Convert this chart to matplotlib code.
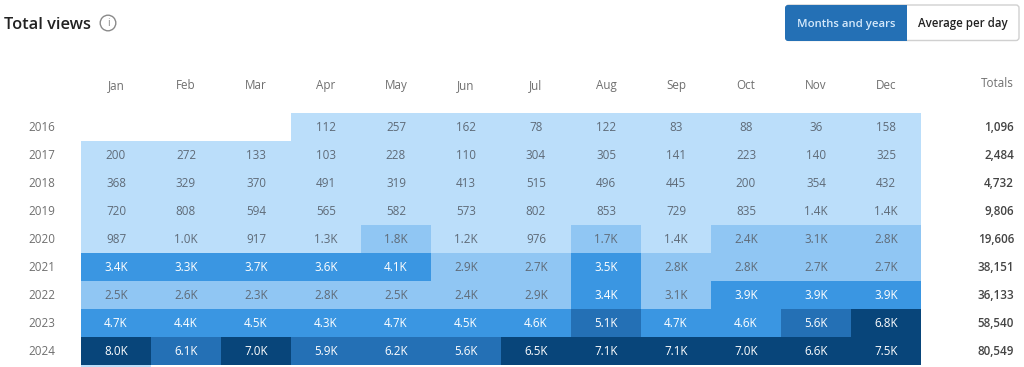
import numpy as np
import matplotlib
matplotlib.use('Agg')
import matplotlib.pyplot as plt
from matplotlib.colors import ListedColormap, BoundaryNorm
from matplotlib.patches import FancyBboxPatch, Circle

months = ['Jan', 'Feb', 'Mar', 'Apr', 'May', 'Jun', 'Jul', 'Aug', 'Sep', 'Oct', 'Nov', 'Dec']
years = ['2016', '2017', '2018', '2019', '2020', '2021', '2022', '2023', '2024']
totals = ['1,096', '2,484', '4,732', '9,806', '19,606', '38,151', '36,133', '58,540', '80,549']

views_2016 = ['', '', '', '112', '257', '162', '78', '122', '83', '88', '36', '158']
views_2017 = ['200', '272', '133', '103', '228', '110', '304', '305', '141', '223', '140', '325']
views_2018 = ['368', '329', '370', '491', '319', '413', '515', '496', '445', '200', '354', '432']
views_2019 = ['720', '808', '594', '565', '582', '573', '802', '853', '729', '835', '1.4K', '1.4K']
views_2020 = ['987', '1.0K', '917', '1.3K', '1.8K', '1.2K', '976', '1.7K', '1.4K', '2.4K', '3.1K', '2.8K']
views_2021 = ['3.4K', '3.3K', '3.7K', '3.6K', '4.1K', '2.9K', '2.7K', '3.5K', '2.8K', '2.8K', '2.7K', '2.7K']
views_2022 = ['2.5K', '2.6K', '2.3K', '2.8K', '2.5K', '2.4K', '2.9K', '3.4K', '3.1K', '3.9K', '3.9K', '3.9K']
views_2023 = ['4.7K', '4.4K', '4.5K', '4.3K', '4.7K', '4.5K', '4.6K', '5.1K', '4.7K', '4.6K', '5.6K', '6.8K']
views_2024 = ['8.0K', '6.1K', '7.0K', '5.9K', '6.2K', '5.6K', '6.5K', '7.1K', '7.1K', '7.0K', '6.6K', '7.5K']
rows = [views_2016, views_2017, views_2018, views_2019, views_2020,
        views_2021, views_2022, views_2023, views_2024]


def to_number(s):
    if s == '':
        return np.nan
    if s.endswith('K'):
        return float(s[:-1]) * 1000
    return float(s)


values = np.array([[to_number(s) for s in r] for r in rows])

shades = ['#BBDEFA', '#90C6F3', '#3A96E2', '#2470B5', '#08457A']
bounds = [0, 1500, 3200, 5000, 6400, 100000]
cmap = ListedColormap(shades)
cmap.set_bad('white')
norm = BoundaryNorm(bounds, cmap.N)

W, H = 1024, 367
plt.rcParams['font.family'] = ['Open Sans', 'DejaVu Sans']
fig = plt.figure(figsize=(W / 100, H / 100), dpi=100)

# heatmap sits at x 81-921, y 113-365 in pixels
ax = fig.add_axes([81 / W, 1 - 365 / H, 840 / W, 252 / H])
ax.pcolormesh(np.ma.masked_invalid(values), cmap=cmap, norm=norm)
ax.set_ylim(len(years), 0)
ax.set_xlim(0, len(months))
for s in ax.spines.values():
    s.set_visible(False)
ax.set_xticks(np.arange(len(months)) + 0.5, months)
ax.set_yticks(np.arange(len(years)) + 0.47, years)
ax.xaxis.tick_top()
ax.tick_params(length=0)
ax.tick_params(axis='x', pad=15.4, labelsize=8.4, labelcolor='#6f6f6f')
ax.tick_params(axis='y', pad=18.7, labelsize=8.4, labelcolor='#6f6f6f')

for i, r in enumerate(rows):
    for j, s in enumerate(r):
        if s == '':
            continue
        col = 'white' if values[i, j] >= bounds[2] else '#5f6b78'
        ax.text(j + 0.5, i + 0.53, s, ha='center', va='center', fontsize=8.4, color=col)
    ax.text(13.33, i + 0.53, totals[i], ha='right', va='center', fontsize=8.4,
            color='#444444', fontweight='semibold', clip_on=False)
ax.text(13.33, -1.05, 'Totals', ha='right', va='center', fontsize=8.4, color='#6f6f6f', clip_on=False)

# page furniture in pixel coordinates
px = fig.add_axes([0, 0, 1, 1], zorder=5)
px.set_xlim(0, W)
px.set_ylim(H, 0)
px.axis('off')
px.text(4, 25, 'Total views', fontsize=11.8, fontweight='semibold', color='#222222', va='center')
px.add_patch(Circle((108, 23), 7.8, fc='white', ec='#8a8a8a', lw=1))
px.text(108, 23.5, 'i', fontsize=7.5, color='#8a8a8a', ha='center', va='center')
px.add_patch(FancyBboxPatch((786, 5), 233, 35.5, boxstyle='round,pad=0,rounding_size=3',
                            fc='white', ec='#d0d0d0', lw=1))
px.add_patch(FancyBboxPatch((785, 5), 122, 36, boxstyle='round,pad=0,rounding_size=3',
                            fc='#2470B5', ec='none'))
px.fill_between([890, 906.5], 5, 41, color='#2470B5', lw=0)
px.text(846.5, 24, 'Months and years', fontsize=8.2, fontweight='semibold', color='#d5e9fb', ha='center', va='center')
px.text(963, 24, 'Average per day', fontsize=8.3, fontweight='semibold', color='#222222', ha='center', va='center')

# the next row is cut off by the bottom of the crop
px.fill_between([81, 151], 365, 367, color=shades[0], lw=0)

fig.savefig('out.png', dpi=100, facecolor='white')
